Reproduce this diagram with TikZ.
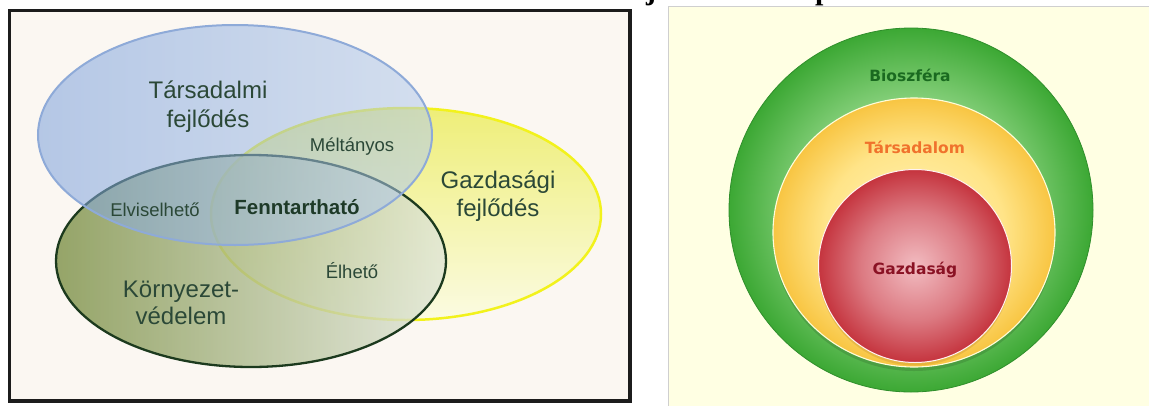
\documentclass[tikz,border=0pt]{standalone}
\usepackage{fontspec}
\setmainfont{Liberation Sans}
\newfontfamily\verdfont{DejaVu Sans}
\newfontfamily\serifbold{Liberation Serif}
\definecolor{boxbg}{HTML}{FBF7F2}
\definecolor{boxline}{HTML}{1C1C1C}
\definecolor{vtext}{HTML}{2B4837}
\definecolor{vtextb}{HTML}{1E3A28}
\definecolor{blueL}{HTML}{7CA1DC}
\definecolor{blueR}{HTML}{B4CBEC}
\definecolor{blueline}{HTML}{8EAAD8}
\definecolor{yelT}{HTML}{EEEE78}
\definecolor{yelB}{HTML}{FBFBE2}
\definecolor{yelline}{HTML}{F2F21C}
\definecolor{grnL}{HTML}{7C9046}
\definecolor{grnR}{HTML}{E0E6D8}
\definecolor{grnline}{HTML}{1C3A1E}
\definecolor{panelbg}{HTML}{FFFFE3}
\definecolor{panelline}{HTML}{CFCFCF}
\definecolor{bioA}{HTML}{A6E09C}
\definecolor{bioB}{HTML}{86D07B}
\definecolor{bioC}{HTML}{3CA834}
\definecolor{bioline}{HTML}{2F8E2B}
\definecolor{tarA}{HTML}{FFF5BC}
\definecolor{tarB}{HTML}{FFE488}
\definecolor{tarC}{HTML}{F8C542}
\definecolor{gazA}{HTML}{F2BCC1}
\definecolor{gazB}{HTML}{DC7A82}
\definecolor{gazC}{HTML}{C5343E}
\definecolor{biotext}{HTML}{1A6A20}
\definecolor{tartext}{HTML}{F0722C}
\definecolor{gaztext}{HTML}{8A1224}
\pgfdeclareradialshading{bioshade}{\pgfpoint{0bp}{0bp}}{color(0bp)=(bioA); color(15bp)=(bioB); color(25bp)=(bioC); color(50bp)=(bioC)}
\pgfdeclareradialshading{tarshade}{\pgfpoint{0bp}{0bp}}{color(0bp)=(tarA); color(16bp)=(tarB); color(25bp)=(tarC); color(50bp)=(tarC)}
\pgfdeclareradialshading{gazshade}{\pgfpoint{0bp}{0bp}}{color(0bp)=(gazA); color(14bp)=(gazB); color(25bp)=(gazC); color(50bp)=(gazC)}
\begin{document}
\begin{tikzpicture}[x=1pt,y=-1pt,
  biglbl/.style={font=\fontsize{24}{24}\selectfont, text=vtext, anchor=base, inner sep=0pt},
  smalllbl/.style={font=\fontsize{18.5}{18.5}\selectfont, text=vtext, anchor=base, inner sep=0pt},
  circlbl/.style={font=\verdfont\bfseries\fontsize{15.5}{15.5}\selectfont, anchor=base, inner sep=0pt},
  headlbl/.style={font=\serifbold\bfseries\fontsize{30}{30}\selectfont, anchor=base west, inner sep=0pt},
]
\useasboundingbox (0,0) rectangle (1149,405);
\begin{scope}
\clip (0,0) rectangle (1149,405);
\fill[white] (0,0) rectangle (1149,405);
% clipped heading fragments (only their descenders show, as in the reference)
\node[headlbl] (hj) at (646,-1) {j};
\node[headlbl] (hp) at (815,-1) {p};

% ---------------- left panel ----------------
\fill[boxbg] (9.2,10.7) rectangle (630,401);
% yellow ellipse (economic)
\shade[top color=yelT, bottom color=yelB] (406,214) ellipse [x radius=195pt, y radius=106pt];
\draw[yelline, line width=2.5pt] (406,214) ellipse [x radius=195pt, y radius=106pt];
% green ellipse (environment)
\shade[left color=grnL, right color=grnR, fill opacity=0.8] (251,261) ellipse [x radius=195pt, y radius=106pt];
\draw[grnline, line width=2.3pt] (251,261) ellipse [x radius=195pt, y radius=106pt];
% blue ellipse (social)
\shade[left color=blueL, right color=blueR, fill opacity=0.55] (235,135) ellipse [x radius=197pt, y radius=110pt];
\draw[blueline, line width=2pt] (235,135) ellipse [x radius=197pt, y radius=110pt];
\draw[boxline, line width=3.3pt] (9.2,10.7) rectangle (630,401);

\node[biglbl] (tars1) at (208,98) {Társadalmi};
\node[biglbl] (tars2) at (208,127) {fejlődés};
\node[biglbl] (gazd1) at (498,188) {Gazdasági};
\node[biglbl] (gazd2) at (498,216) {fejlődés};
\node[biglbl] (korn1) at (181,297) {Környezet-};
\node[biglbl] (korn2) at (181,324) {védelem};
\node[smalllbl] (melt) at (352,151) {Méltányos};
\node[smalllbl] (elvi) at (155,216) {Elviselhető};
\node[smalllbl] (elhe) at (352,278) {Élhető};
\node[font=\bfseries\fontsize{20.5}{20.5}\selectfont, text=vtextb, anchor=base, inner sep=0pt] (fenn) at (297,214) {Fenntartható};

% ---------------- right panel ----------------
\fill[panelbg] (668,6.5) rectangle (1152,408);
\draw[panelline, line width=1pt] (668,408) -- (668,6.5) -- (1152,6.5);
% biosphere
\shade[shading=bioshade] (911,210) circle [radius=182pt];
\draw[bioline, line width=0.8pt] (911,210) circle [radius=182pt];
% society
\fill[black, opacity=0.12] (914,236) ellipse [x radius=141pt, y radius=135pt];
\shade[shading=tarshade] (914,232.5) ellipse [x radius=141pt, y radius=134.5pt];
\draw[white!85!yellow, line width=1.1pt] (914,232.5) ellipse [x radius=141pt, y radius=134.5pt];
% economy
\fill[black!60!orange, opacity=0.12] (915,269) circle [radius=96.5pt];
\shade[shading=gazshade] (915,266) circle [radius=96.5pt];
\draw[white!80!pink, line width=1pt] (915,266) circle [radius=96.5pt];

\node[circlbl, text=biotext] (bio) at (910,81.5) {Bioszféra};
\node[circlbl, text=tartext] (tar) at (915,153) {Társadalom};
\node[circlbl, text=gaztext] (gaz) at (915,274) {Gazdaság};
\end{scope}
\end{tikzpicture}
\end{document}
